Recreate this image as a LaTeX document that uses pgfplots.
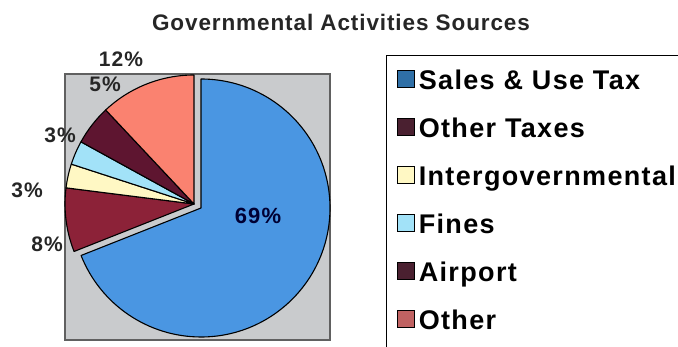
\documentclass[border=0pt]{standalone}
\usepackage{pgfplots}
\usepackage{pgfplotstable}
\pgfplotsset{compat=1.18}
\usepackage{fontspec}
\setmainfont{Liberation Sans}
\newfontfamily\titlefont[LetterSpace=4]{Liberation Sans}
\newfontfamily\legfont[LetterSpace=5]{Liberation Sans}
\newfontfamily\labfont[LetterSpace=5]{Liberation Sans}

\definecolor{cSales}{HTML}{4A96E2}
\definecolor{cOtherTax}{HTML}{8C2238}
\definecolor{cInter}{HTML}{FFF8C4}
\definecolor{cFines}{HTML}{A2E2F8}
\definecolor{cAirport}{HTML}{5E1530}
\definecolor{cOther}{HTML}{FA8270}
\definecolor{lSales}{HTML}{2F6FA6}
\definecolor{lOtherTax}{HTML}{4A2030}
\definecolor{lOther}{HTML}{C06262}
\definecolor{bgGray}{HTML}{C9CBCD}

% share of each source, percent
\pgfplotstableread{
value color
69 cSales
8  cOtherTax
3  cInter
3  cFines
5  cAirport
12 cOther
}\piedata

\begin{document}
\begin{tikzpicture}
\begin{axis}[name=ax, x=1pt, y=1pt, xmin=0, xmax=678, ymin=0, ymax=347,
  hide axis, clip=false,
  legend image code/.code={\draw[#1, draw=black, line width=0.6pt] (0pt,-4pt) rectangle (17pt,13pt); \path (19pt,0pt);},
  legend style={at={(axis description cs:0.5693,0.8415)}, anchor=north west,
    draw=black, line width=1pt, fill=white, inner xsep=11pt, inner ysep=14pt,
    font=\legfont\bfseries\fontsize{27}{31}\selectfont,
    row sep=21pt,
    nodes={inner sep=1.5pt, text height=19pt, text depth=5pt}},
  legend cell align=left]
\addplot[fill=bgGray, draw=gray!75!black, line width=1.8pt, forget plot]
  coordinates {(65,7) (330,7) (330,273) (65,273)} -- cycle;

\pgfplotstablegetrowsof{\piedata}
\pgfmathtruncatemacro\N{\pgfplotsretval-1}
\gdef\cum{90}
\pgfplotsforeachungrouped \i in {0,...,\N}{%
  \pgfplotstablegetelem{\i}{value}\of\piedata \let\v\pgfplotsretval
  \pgfplotstablegetelem{\i}{color}\of\piedata \let\col\pgfplotsretval
  \pgfmathsetmacro\endang{\cum-3.6*\v}%
  \ifnum\i=0 \def\cx{201}\def\cy{139}\else\def\cx{194}\def\cy{143}\fi
  \edef\temp{\noexpand\filldraw[fill=\col, draw=black, line width=1.1pt, line join=round]
     (axis cs:\cx,\cy) -- ++(\cum:129pt) arc[start angle=\cum, end angle=\endang, radius=129pt] -- cycle;}%
  \temp
  \global\let\cum\endang
}

\addlegendimage{fill=lSales, draw=lSales}
\addlegendentry{Sales \& Use Tax}
\addlegendimage{fill=lOtherTax, draw=lOtherTax}
\addlegendentry{Other Taxes}
\addlegendimage{fill=cInter}
\addlegendentry{Intergovernmental\hspace{30pt}}
\addlegendimage{fill=cFines}
\addlegendentry{Fines}
\addlegendimage{fill=lOtherTax, draw=lOtherTax}
\addlegendentry{Airport}
\addlegendimage{fill=lOther, draw=lOther}
\addlegendentry{Other}
\addlegendimage{empty legend}
\addlegendentry{}

\node[anchor=base, font=\titlefont\bfseries\fontsize{22.5}{26}\selectfont, text=black!85] at (axis cs:341,316) {Governmental Activities Sources};

\node[anchor=base, font=\labfont\bfseries\fontsize{22}{24}\selectfont, text=black!80!blue] at (axis cs:258,123) {69\%};
\node[anchor=base, font=\labfont\bfseries\fontsize{21}{24}\selectfont, text=black!85] at (axis cs:121,280) {12\%};
\node[anchor=base, font=\labfont\bfseries\fontsize{21}{24}\selectfont, text=black!85] at (axis cs:105,255) {5\%};
\node[anchor=base, font=\labfont\bfseries\fontsize{21}{24}\selectfont, text=black!85] at (axis cs:60,204) {3\%};
\node[anchor=base, font=\labfont\bfseries\fontsize{21}{24}\selectfont, text=black!85] at (axis cs:27,149) {3\%};
\node[anchor=base, font=\labfont\bfseries\fontsize{21}{24}\selectfont, text=black!85] at (axis cs:47,95) {8\%};
\end{axis}
\pgfresetboundingbox
\path[use as bounding box] (ax.south west) rectangle (ax.north east);
\end{tikzpicture}
\end{document}
